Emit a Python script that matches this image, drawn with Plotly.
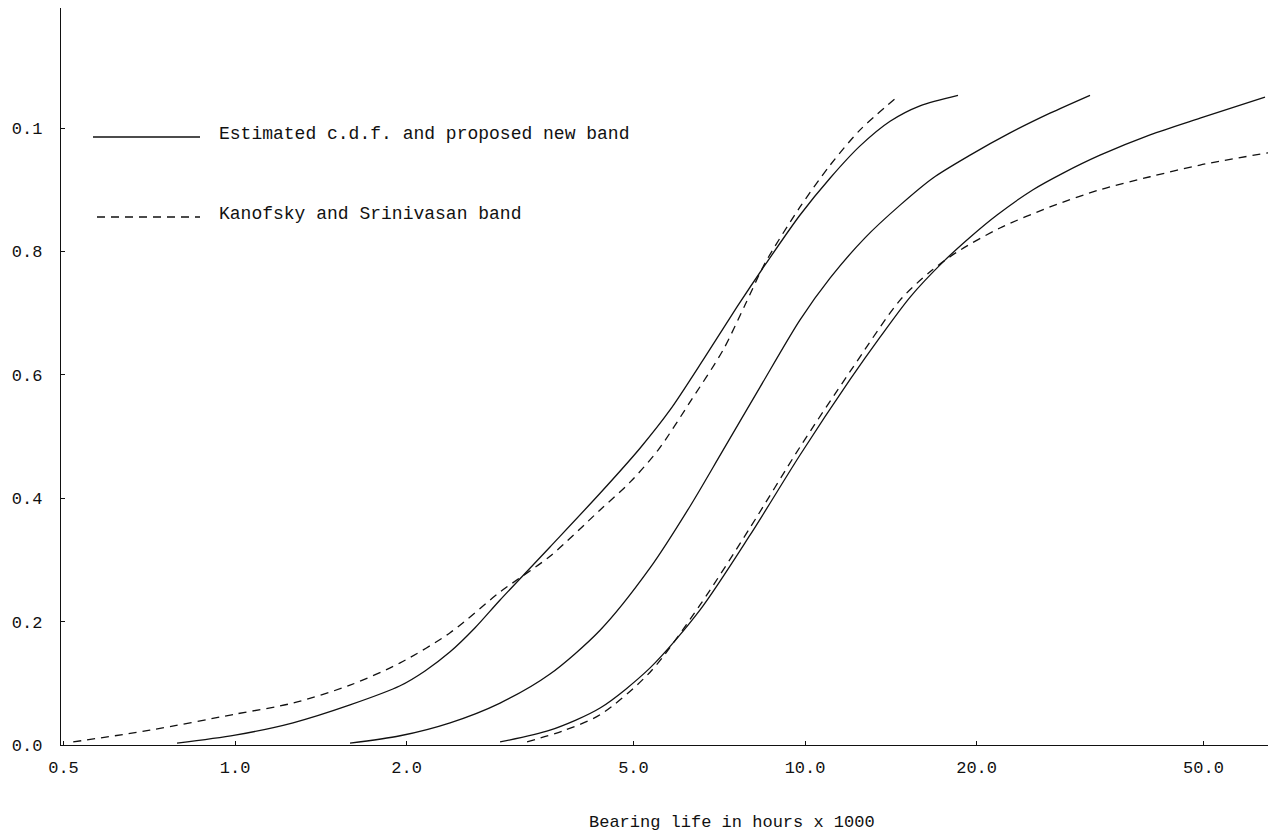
import math
import plotly.graph_objects as go

# ---- data (bearing life in hours x 1000, cumulative probability) ----
x_ticks = [0.5, 1.0, 2.0, 5.0, 10.0, 20.0, 50.0]
x_tick_labels = ["0.5", "1.0", "2.0", "5.0", "10.0", "20.0", "50.0"]
y_ticks = [0.0, 0.2, 0.4, 0.6, 0.8, 1.0]
y_tick_labels = ["0.0", "0.2", "0.4", "0.6", "0.8", "0.1"]

# proposed new band: upper limit (left solid)
upper_x = [0.791, 1.0, 1.264, 1.591, 1.948, 2.154, 2.384, 2.637, 2.917, 3.569, 4.369, 5.134, 5.797, 6.677, 7.597, 8.508, 9.80, 11.07, 12.49, 14.10, 15.91, 18.55]
upper_y = [0.003, 0.016, 0.036, 0.065, 0.096, 0.120, 0.151, 0.190, 0.235, 0.321, 0.408, 0.481, 0.543, 0.629, 0.710, 0.778, 0.859, 0.919, 0.971, 1.011, 1.036, 1.053]

# estimated c.d.f. (middle solid)
est_x = [1.591, 1.948, 2.384, 2.917, 3.569, 4.369, 5.347, 6.285, 7.152, 8.338, 9.80, 11.07, 12.74, 14.68, 16.77, 19.48, 22.89, 26.90, 31.62]
est_y = [0.003, 0.015, 0.036, 0.068, 0.115, 0.186, 0.287, 0.387, 0.475, 0.580, 0.689, 0.757, 0.822, 0.875, 0.919, 0.956, 0.992, 1.024, 1.053]

# proposed new band: lower limit (right solid)
lower_x = [2.917, 3.569, 4.369, 5.347, 6.544, 8.006, 9.80, 11.99, 13.54, 15.29, 17.47, 19.48, 21.72, 25.12, 28.36, 32.92, 40.30, 49.32, 64.12]
lower_y = [0.005, 0.024, 0.060, 0.125, 0.219, 0.340, 0.470, 0.592, 0.661, 0.726, 0.783, 0.823, 0.859, 0.900, 0.927, 0.956, 0.989, 1.016, 1.050]

# Kanofsky and Srinivasan band: upper (left dashed)
ks_up_x = [0.520, 0.709, 1.0, 1.264, 1.591, 1.948, 2.384, 2.917, 3.569, 4.369, 4.932, 5.523, 6.285, 7.180, 7.846, 8.508, 9.80, 11.07, 12.49, 14.50]
ks_up_y = [0.005, 0.024, 0.050, 0.068, 0.097, 0.133, 0.182, 0.248, 0.306, 0.381, 0.426, 0.478, 0.556, 0.640, 0.713, 0.781, 0.872, 0.940, 0.997, 1.050]

# Kanofsky and Srinivasan band: lower (right dashed)
ks_lo_x = [3.253, 3.762, 4.369, 5.347, 6.544, 8.006, 9.80, 11.99, 14.68, 16.57, 18.48, 21.98, 26.90, 32.92, 40.30, 49.32, 68.97]
ks_lo_y = [0.005, 0.023, 0.049, 0.118, 0.227, 0.352, 0.483, 0.605, 0.721, 0.767, 0.799, 0.838, 0.872, 0.900, 0.921, 0.940, 0.964]

FONT = "Liberation Mono, Courier New, monospace"
INK = "#111111"

fig = go.Figure()
solid = dict(color=INK, width=1.3, shape="spline", smoothing=0.8)
dashed = dict(color=INK, width=1.3, shape="spline", smoothing=0.8, dash="8px,6px")

for xs, ys in [(upper_x, upper_y), (est_x, est_y), (lower_x, lower_y)]:
    fig.add_trace(go.Scatter(x=xs, y=ys, mode="lines", line=solid, showlegend=False, hoverinfo="skip"))
for xs, ys in [(ks_up_x, ks_up_y), (ks_lo_x, ks_lo_y)]:
    fig.add_trace(go.Scatter(x=xs, y=ys, mode="lines", line=dashed, showlegend=False, hoverinfo="skip"))

# page is 1283x833; browser body margin puts the figure at (8, 8)
PAGE_W, PAGE_H, OFF = 1283, 833, 8
PLOT_L, PLOT_R, PLOT_T, PLOT_B = 61, 1268, 8, 745   # plot area in page pixels
W, H = PAGE_W - OFF, PAGE_H - OFF
pw, ph = PLOT_R - PLOT_L, PLOT_B - PLOT_T

def px(xp):
    return (xp - PLOT_L) / pw

def py(yp):
    return (PLOT_B - yp) / ph

# legend drawn as samples + text
fig.add_shape(type="line", xref="paper", yref="paper", x0=px(93), x1=px(200), y0=py(137), y1=py(137),
              line=dict(color=INK, width=1.3))
fig.add_shape(type="line", xref="paper", yref="paper", x0=px(97), x1=px(200), y0=py(217), y1=py(217),
              line=dict(color=INK, width=1.3, dash="8px,6px"))
fig.add_annotation(xref="paper", yref="paper", x=px(217), y=py(134), xanchor="left", yanchor="middle",
                   text="Estimated c.d.f. and proposed new band", showarrow=False,
                   font=dict(family=FONT, size=18, color=INK))
fig.add_annotation(xref="paper", yref="paper", x=px(217), y=py(214), xanchor="left", yanchor="middle",
                   text="Kanofsky and Srinivasan band", showarrow=False,
                   font=dict(family=FONT, size=18, color=INK))
fig.add_annotation(xref="paper", yref="paper", x=px(732), y=py(822), xanchor="center", yanchor="middle",
                   text="Bearing life in hours x 1000", showarrow=False,
                   font=dict(family=FONT, size=17, color=INK))

fig.update_layout(
    width=W, height=H,
    margin=dict(l=PLOT_L - OFF, r=PAGE_W - PLOT_R, t=PLOT_T - OFF, b=PAGE_H - PLOT_B, autoexpand=False),
    paper_bgcolor="white", plot_bgcolor="white",
    font=dict(family=FONT, size=17, color=INK),
    showlegend=False,
    xaxis=dict(type="log", range=[math.log10(0.495), math.log10(64.9)],
               tickvals=x_ticks, ticktext=x_tick_labels,
               showgrid=False, zeroline=False, showline=True, linecolor=INK, linewidth=1.3,
               ticks="inside", ticklen=4, tickcolor=INK, ticklabelstandoff=6),
    yaxis=dict(range=[0, 1.1945], tickvals=y_ticks, ticktext=y_tick_labels,
               showgrid=False, zeroline=False, showline=True, linecolor=INK, linewidth=1.3,
               ticks="inside", ticklen=4, tickcolor=INK, ticklabelstandoff=14),
)

fig.write_html("out.html")
